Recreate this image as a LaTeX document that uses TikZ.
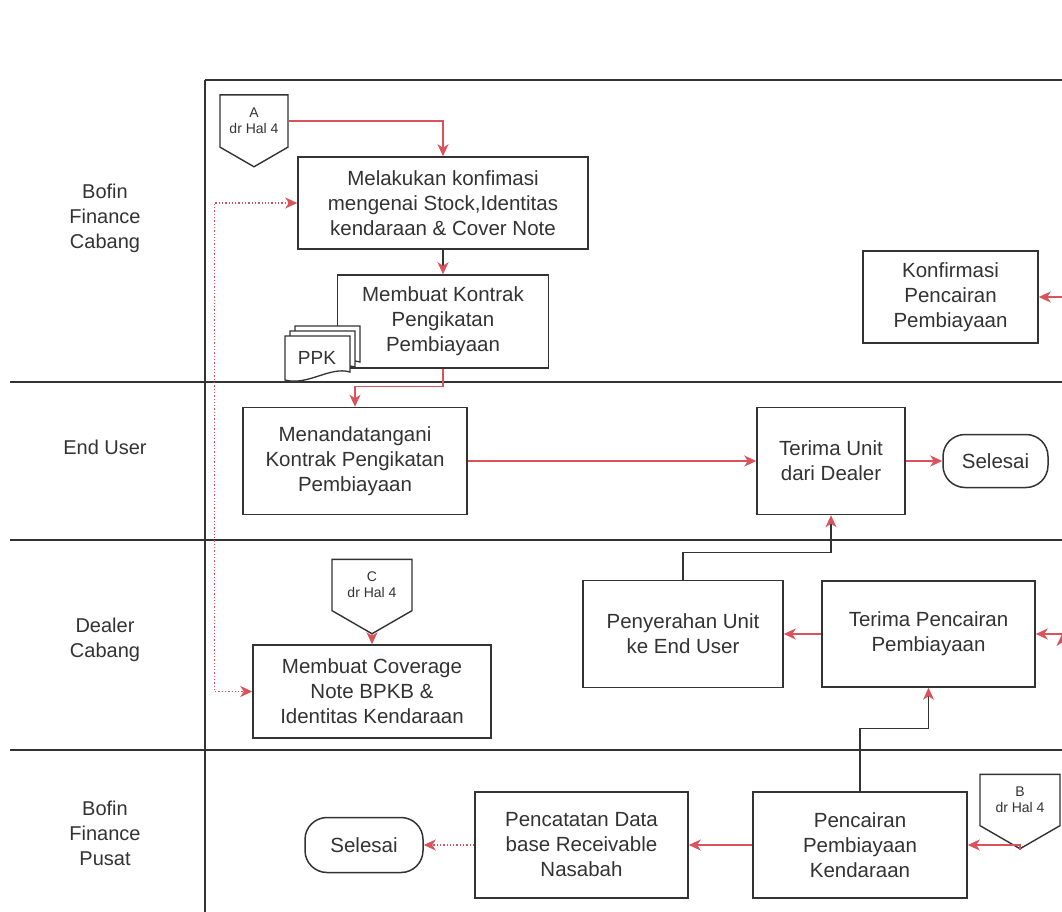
\documentclass[tikz,border=0pt]{standalone}
\usepackage{fontspec}
\setmainfont{Liberation Sans}
\usetikzlibrary{arrows.meta,shapes.symbols}
\definecolor{flowred}{HTML}{D9535B}
\definecolor{inkgray}{HTML}{333333}
\tikzstyle{proc}=[draw=inkgray, line width=1.5pt, text=inkgray, align=center, inner sep=2pt, font=\fontsize{20.5}{25}\selectfont]
\tikzstyle{term}=[proc, rounded corners=22pt]
\tikzstyle{offpage}=[draw=inkgray, line width=1.4pt, signal, signal to=south, signal pointer angle=120, text=inkgray, align=center, inner sep=1pt, font=\fontsize{14}{16}\selectfont]
\tikzstyle{lane}=[text=inkgray, align=center, font=\fontsize{20}{25}\selectfont]
\tikzstyle{flow}=[draw=flowred, line width=1.3pt, -{Stealth[length=12pt,width=11pt,inset=3.5pt,color=flowred]}]
\tikzstyle{darkflow}=[flow, draw=inkgray]
\tikzstyle{dotflow}=[flow, dotted, line width=1.5pt, {Stealth[length=12pt,width=11pt,inset=3.5pt,color=flowred]}-{Stealth[length=12pt,width=11pt,inset=3.5pt,color=flowred]}]
\tikzstyle{sep}=[draw=inkgray, line width=1.2pt]

\begin{document}
\begin{tikzpicture}[x=1pt,y=-1pt]
   \fill[white] (0,0) rectangle (1062,912);
   \useasboundingbox (0,0) rectangle (1062,912);
   % lanes
   \path[sep] (205,80) -- (1062,80);
   \path[sep] (10,382) -- (1062,382);
   \path[sep] (10,540) -- (1062,540);
   \path[sep] (10,750) -- (1062,750);
   \path[sep, line width=1.5pt] (205,80) -- (205,912);
   \node[lane] (L1) at (105,218) {Bofin\\Finance\\Cabang};
   \node[lane] (L2) at (105,447) {End User};
   \node[lane] (L3) at (105,640) {Dealer\\Cabang};
   \node[lane] (L4) at (105,833) {Bofin\\Finance\\Pusat};
   % connectors off page
   \node[offpage, minimum width=68pt, minimum height=67pt] (C1) at (254,121) {A\\dr Hal 4};
   \node[offpage, minimum width=80pt, minimum height=66pt] (C2) at (372,585) {C\\dr Hal 4};
   \node[offpage, minimum width=80pt, minimum height=66pt] (C3) at (1020,800) {B\\dr Hal 4};
   \coordinate (E1) at (1062,297);
   \coordinate (E2) at (1062,634);
   % steps
   \node[proc, minimum width=290pt, minimum height=92pt] (P1) at (443,203) {Melakukan konfimasi\\mengenai Stock,Identitas\\kendaraan \& Cover Note};
   \node[proc, minimum width=211pt, minimum height=93pt] (P2) at (443,321.5) {Membuat Kontrak\\Pengikatan\\Pembiayaan};
   \node[proc, minimum width=175pt, minimum height=92pt] (P3) at (950.5,297) {Konfirmasi\\Pencairan\\Pembiayaan};
   \node[proc, minimum width=224pt, minimum height=107pt] (P4) at (355,461) {Menandatangani\\Kontrak Pengikatan\\Pembiayaan};
   \node[proc, minimum width=148pt, minimum height=107pt] (P5) at (831,461) {Terima Unit\\dari Dealer};
   \node[term, minimum width=105pt, minimum height=53pt] (S1) at (995.5,461) {Selesai};
   \node[proc, minimum width=238pt, minimum height=93pt] (P6) at (372,691.5) {Membuat Coverage\\Note BPKB \&\\Identitas Kendaraan};
   \node[proc, minimum width=200pt, minimum height=107pt] (P7) at (683,634) {Penyerahan Unit\\ke End User};
   \node[proc, minimum width=213pt, minimum height=106pt] (P8) at (928.5,634) {Terima Pencairan\\Pembiayaan};
   \node[proc, minimum width=213pt, minimum height=106pt] (P9) at (581.5,845) {Pencatatan Data\\base Receivable\\Nasabah};
   \node[proc, minimum width=214pt, minimum height=106pt] (P10) at (860,845) {Pencairan\\Pembiayaan\\Kendaraan};
   \node[term, minimum width=118pt, minimum height=55pt] (S2) at (364,845) {Selesai};
   % PPK document stack
   \foreach \d in {10,5,0}
      \filldraw[fill=white, draw=inkgray, line width=1.3pt]
         (285+\d,336-\d) -- (350+\d,336-\d) -- (350+\d,372-\d)
         .. controls (330+\d,366-\d) and (308+\d,386-\d) .. (285+\d,380-\d) -- cycle;
   \node[text=inkgray, font=\fontsize{19}{21}\selectfont] (D1) at (317,358) {PPK};
   % flows
   \draw[flow] (C1.east) -| (P1.north);
   \draw[flow] (P2.south) -- ++(0,18) -| (P4.north);
   \draw[dotflow] (P1.west) -- ++(-83,0) |- (P6.west);
   \draw[darkflow] (P7.north) -- ++(0,-27) -| (P5.south);
   \draw[darkflow] (P10.north) -- ++(0,-63) -| (P8.south);
   \draw[flow] (C3.south) |- (P10.east);
   \path[darkflow]
   (P1) edge (P2)
   (C2) edge (P6);
   \path[flow]
   (P4) edge (P5)
   (P5) edge (S1)
   (P8) edge (P7)
   (P10) edge (P9)
   (E1) edge (P3)
   (E2) edge (P8);
   \path[flow, dotted] (P9) edge (S2);
\end{tikzpicture}
\end{document}
